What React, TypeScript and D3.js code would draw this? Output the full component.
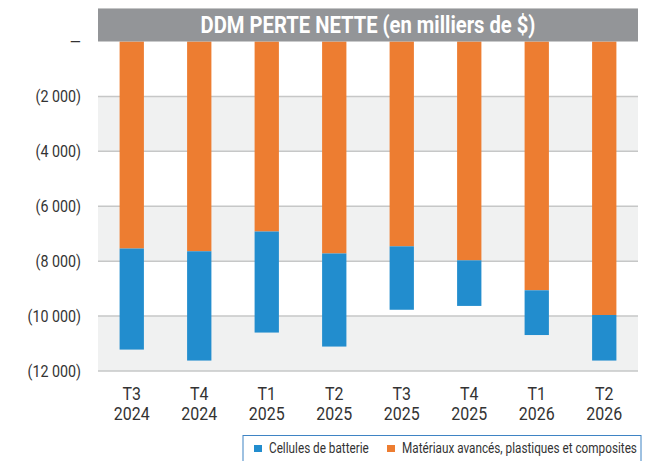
import React from 'react';
import * as d3 from 'd3';

// DDM net loss by quarter, thousands of $ (negative values)
const quarters = ['T3', 'T4', 'T1', 'T2', 'T3', 'T4', 'T1', 'T2'];
const years = ['2024', '2024', '2025', '2025', '2025', '2025', '2026', '2026'];
const materials = [-7540, -7640, -6920, -7720, -7460, -7970, -9060, -9960];
const battery = [-3680, -3980, -3680, -3390, -2310, -1660, -1630, -1660];
const yTicks = [0, -2000, -4000, -6000, -8000, -10000, -12000];
const shadedBands = [[-2000, -4000], [-6000, -8000], [-10000, -12000]];

const title = 'DDM PERTE NETTE (en milliers de $)';
const legendLabels = ['Cellules de batterie', 'Matériaux avancés, plastiques et composites'];

const BLUE = '#228dce';
const ORANGE = '#ed7d31';
const FONT = 'Roboto, sans-serif';
const SQUEEZE = 0.84;

const width = 654;
const height = 461;
const plotLeft = 98;
const plotRight = 638;

const fmt = (v: number) => {
  if (v === 0) return '—';
  return '(' + d3.format(',')(-v).replace(/,/g, ' ') + ')';
};

const App = () => {
  const rows = quarters.map((q, i) => ({ key: i, materials: materials[i], battery: battery[i] }));
  const stack = d3
    .stack<any>()
    .keys(['materials', 'battery'])
    .offset(d3.stackOffsetDiverging);
  const series = stack(rows);

  const x = d3
    .scaleBand<number>()
    .domain(rows.map((r) => r.key))
    .range([plotLeft, plotRight])
    .paddingInner(0.64)
    .paddingOuter(0.32);
  const y = d3.scaleLinear().domain([0, -12000]).range([41.5, 371]);

  const colors: Record<string, string> = { materials: ORANGE, battery: BLUE };

  return (
    <svg width={width} height={height} style={{ position: 'absolute', left: 0, top: 0, background: '#fff' }}>
      {shadedBands.map(([a, b], i) => (
        <rect key={i} x={plotLeft} y={y(a)} width={plotRight - plotLeft} height={y(b) - y(a)} fill="#f0f1f1" />
      ))}
      {yTicks.slice(1).map((t) => (
        <line key={t} x1={plotLeft} x2={plotRight} y1={y(t)} y2={y(t)} stroke="#c6c7c7" strokeWidth={1.5} />
      ))}

      {series.map((s) => (
        <g key={s.key} fill={colors[s.key]}>
          {s.map((d, i) => (
            <rect
              key={i}
              x={x(rows[i].key)}
              width={x.bandwidth()}
              y={y(Math.max(d[0], d[1]))}
              height={Math.abs(y(d[1]) - y(d[0]))}
            />
          ))}
        </g>
      ))}

      <rect x={plotLeft} y={8} width={plotRight - plotLeft} height={33.5} fill="#939598" />
      <line x1={plotLeft} x2={plotRight} y1={8.5} y2={8.5} stroke="#c4c5c6" strokeWidth={1} />
      <text
        transform={`translate(${(plotLeft + plotRight) / 2},33) scale(0.86,1)`}
        textAnchor="middle"
        fontFamily={FONT}
        fontWeight={700}
        fontSize={23.5}
        fill="#fff"
      >
        {title}
      </text>

      {yTicks.map((t) => (
        <text
          key={t}
          transform={`translate(81,${y(t) + 6}) scale(${SQUEEZE},1)`}
          textAnchor="end"
          fontFamily={FONT}
          fontSize={17}
          fill="#333"
        >
          {fmt(t)}
        </text>
      ))}

      {rows.map((r, i) => {
        const cx = (x(r.key) as number) + x.bandwidth() / 2;
        return (
          <g key={i} fontFamily={FONT} fontSize={19} fill="#333" textAnchor="middle">
            <text transform={`translate(${cx},400) scale(${SQUEEZE},1)`}>{quarters[i]}</text>
            <text transform={`translate(${cx},420) scale(${SQUEEZE},1)`}>{years[i]}</text>
          </g>
        );
      })}

      <rect x={243} y={435.5} width={398} height={40} fill="#fff" stroke="#3f84c4" strokeWidth={1} />
      <rect x={254} y={445} width={8} height={7} fill={BLUE} />
      <text transform={`translate(269,452.5) scale(${SQUEEZE},1)`} fontFamily={FONT} fontSize={14} fill="#333">
        {legendLabels[0]}
      </text>
      <rect x={387} y={445} width={8} height={7} fill={ORANGE} />
      <text transform={`translate(402,452.5) scale(${SQUEEZE},1)`} fontFamily={FONT} fontSize={14} fill="#333">
        {legendLabels[1]}
      </text>
    </svg>
  );
};

export default App;
